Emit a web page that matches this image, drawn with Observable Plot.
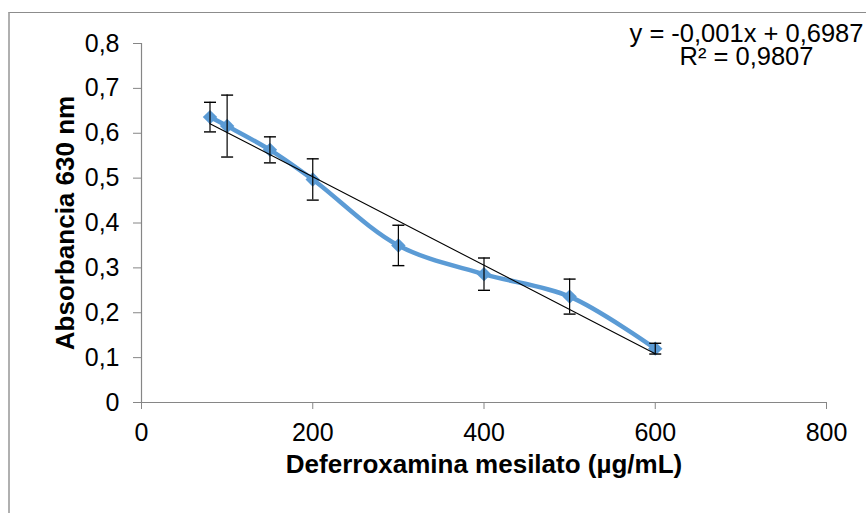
<!DOCTYPE html>
<html>
<head>
<meta charset="utf-8">
<script src="https://cdn.jsdelivr.net/npm/d3@7"></script>
<script src="https://cdn.jsdelivr.net/npm/@observablehq/plot@0.6"></script>
<style>
  html, body { margin: 0; padding: 0; background: #fff; }
  #wrap { position: relative; width: 866px; height: 513px; overflow: hidden; font-family: "Liberation Sans", Arial, sans-serif; }
  #border { position: absolute; left: 8px; top: 12px; right: -4px; bottom: -4px; border-left: 2px solid #b0b0b0; border-top: 1px solid #8c8c8c; }
  #chart { position: absolute; left: 0; top: 0; }
</style>
</head>
<body>
<div id="wrap"><div id="border"></div><div id="chart"></div></div>
<script>
// Data
const concentrations = [80, 100, 150, 200, 300, 400, 500, 600];
const absorbance     = [0.636, 0.616, 0.563, 0.497, 0.350, 0.286, 0.236, 0.120];
const errors         = [0.033, 0.069, 0.029, 0.046, 0.045, 0.036, 0.039, 0.012];
const xTicks = [0, 200, 400, 600, 800];
const yTicks = [0, 0.1, 0.2, 0.3, 0.4, 0.5, 0.6, 0.7, 0.8];
const equationLine1 = "y = -0,001x + 0,6987";
const equationLine2 = "R² = 0,9807";
const xTitle = "Deferroxamina mesilato (µg/mL)";
const yTitle = "Absorbancia 630 nm";

const data = concentrations.map((x, i) => ({x, y: absorbance[i], e: errors[i]}));
const fmt = d => d === 0 ? "0" : d.toFixed(1).replace(".", ",");

const cap = {
  draw(ctx, size) {
    const r = Math.sqrt(size / Math.PI);
    ctx.moveTo(-r, 0);
    ctx.lineTo(r, 0);
  }
};

const blue = "#5B9BD5";
const axisGray = "#868686";

const chart = Plot.plot({
  width: 866,
  height: 513,
  marginLeft: 141,
  marginRight: 40,
  marginTop: 43,
  marginBottom: 111,
  style: {fontFamily: "'Liberation Sans', Arial, sans-serif", background: "transparent", color: "black"},
  x: {domain: [0, 800], ticks: xTicks},
  y: {domain: [0, 0.8], ticks: yTicks},
  marks: [
    Plot.axisX({ticks: xTicks, tickFormat: d => String(d), tickSize: 7, tickPadding: 14, fontSize: 25, stroke: axisGray, fill: "black", label: null}),
    Plot.axisY({ticks: yTicks, tickFormat: fmt, tickSize: 8, tickPadding: 14, fontSize: 25, stroke: axisGray, fill: "black", label: null}),
    Plot.ruleY([0], {stroke: axisGray, strokeWidth: 1.2}),
    Plot.ruleX([0], {stroke: axisGray, strokeWidth: 1.2}),
    Plot.line(data, {x: "x", y: "y", stroke: blue, strokeWidth: 4.5, curve: "catmull-rom"}),
    Plot.dot(data, {x: "x", y: "y", symbol: "diamond2", r: 6.5, fill: blue, stroke: "none"}),
    Plot.ruleX(data, {x: "x", y1: d => d.y - d.e, y2: d => d.y + d.e, stroke: "black", strokeWidth: 1.2}),
    Plot.dot(data, {x: "x", y: d => d.y - d.e, symbol: cap, r: 6, stroke: "black", strokeWidth: 1.4, fill: "none"}),
    Plot.dot(data, {x: "x", y: d => d.y + d.e, symbol: cap, r: 6, stroke: "black", strokeWidth: 1.4, fill: "none"}),
    Plot.linearRegressionY(data, {x: "x", y: "y", stroke: "black", strokeWidth: 1.1, ci: 0}),
    Plot.text([equationLine1], {frameAnchor: "top-right", dx: -80, dy: -10, textAnchor: "middle", lineAnchor: "middle", fontSize: 25.5, fill: "black"}),
    Plot.text([equationLine2], {frameAnchor: "top-right", dx: -80, dy: 13, textAnchor: "middle", lineAnchor: "middle", fontSize: 25.5, fill: "black"}),
    Plot.text([xTitle], {frameAnchor: "bottom", dy: 70, textAnchor: "middle", fontSize: 26, fontWeight: "bold", fill: "black"}),
    Plot.text([yTitle], {frameAnchor: "left", dx: -76, rotate: -90, textAnchor: "middle", fontSize: 26, fontWeight: "bold", fill: "black"})
  ]
});
document.getElementById("chart").appendChild(chart);
</script>
</body>
</html>
